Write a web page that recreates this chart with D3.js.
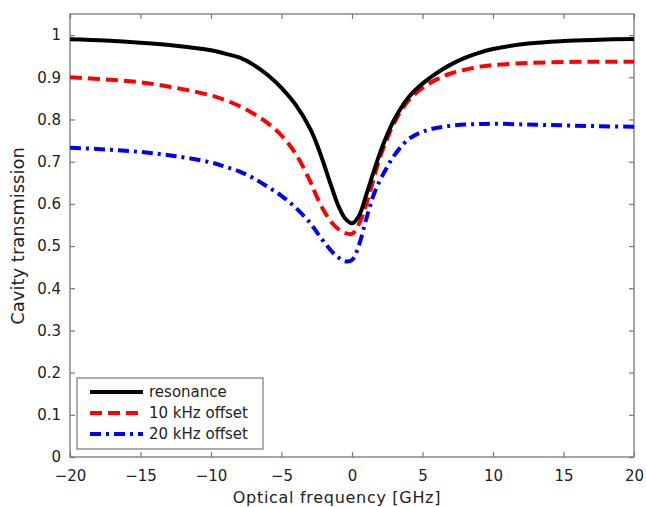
<!DOCTYPE html>
<html><head><meta charset="utf-8">
<script src="https://cdn.jsdelivr.net/npm/d3@7/dist/d3.min.js"></script>
<style>body{margin:0;background:#fff}svg{display:block}text{font-family:"DejaVu Sans",Verdana,sans-serif;fill:#222}</style>
</head><body><svg id="c" width="646" height="507"></svg>
<script>
const freq = [-20,-17.5,-15,-12.5,-10,-9,-8,-7,-6,-5,-4,-3,-2.5,-2,-1.5,-1,-0.5,0,0.5,1,1.5,2,2.5,3,4,5,6,7,8,9,10,12.5,15,17.5,20];
const resonance = [0.990,0.987,0.982,0.975,0.964,0.956,0.947,0.930,0.906,0.875,0.835,0.780,0.742,0.695,0.645,0.598,0.566,0.554,0.572,0.620,0.672,0.722,0.764,0.800,0.852,0.885,0.910,0.930,0.946,0.958,0.967,0.980,0.986,0.989,0.991];
const offset10 = [0.900,0.895,0.888,0.875,0.857,0.846,0.832,0.814,0.792,0.762,0.719,0.656,0.617,0.584,0.558,0.541,0.531,0.529,0.553,0.598,0.655,0.712,0.755,0.793,0.845,0.875,0.895,0.909,0.918,0.925,0.929,0.934,0.936,0.937,0.937];
const offset20 = [0.733,0.729,0.723,0.713,0.698,0.688,0.677,0.661,0.641,0.619,0.591,0.556,0.533,0.510,0.490,0.474,0.464,0.467,0.503,0.563,0.618,0.657,0.688,0.715,0.753,0.771,0.780,0.785,0.788,0.789,0.790,0.788,0.786,0.784,0.783];
const seriesNames = ["resonance","10 kHz offset","20 kHz offset"];
const xTicks = [-20,-15,-10,-5,0,5,10,15,20];
const yTicks = [0,0.1,0.2,0.3,0.4,0.5,0.6,0.7,0.8,0.9,1];
const xLabel = "Optical frequency [GHz]";
const yLabel = "Cavity transmission";

const svg = d3.select("#c");
const L=70,R=634,T=14,B=457;
const x = d3.scaleLinear().domain([-20,20]).range([L,R]);
const y = d3.scaleLinear().domain([0,1.05]).range([B,T]);
const axisCol="#777";

svg.append("rect").attr("x",L).attr("y",T).attr("width",R-L).attr("height",B-T)
  .attr("fill","none").attr("stroke",axisCol).attr("stroke-width",1.3);

const tl=5;
const gb = svg.append("g").attr("transform",`translate(0,${B})`)
  .call(d3.axisBottom(x).tickValues(xTicks).tickSize(-tl).tickPadding(10).tickFormat(d3.format("d")));
const gt = svg.append("g").attr("transform",`translate(0,${T})`)
  .call(d3.axisTop(x).tickValues(xTicks).tickSize(-tl).tickFormat(""));
const gl = svg.append("g").attr("transform",`translate(${L},0)`)
  .call(d3.axisLeft(y).tickValues(yTicks).tickSize(-tl).tickPadding(9).tickFormat(d=>d===0?"0":d===1?"1":d3.format(".1f")(d)));
const gr = svg.append("g").attr("transform",`translate(${R},0)`)
  .call(d3.axisRight(y).tickValues(yTicks).tickSize(-tl).tickFormat(""));
[gb,gt,gl,gr].forEach(g=>{g.select(".domain").remove();g.selectAll("line").attr("stroke",axisCol).attr("stroke-width",1.2);
  g.selectAll("text").style("font-size","15px").attr("fill","#222").style("font-family","'DejaVu Sans',Verdana,sans-serif");});
gb.selectAll("text").attr("dy","0.9em");

const line = d3.line().x(d=>x(d[0])).y(d=>y(d[1])).curve(d3.curveCatmullRom.alpha(0.5));
const styles = [
  {c:"#000000",dash:null,w:4},
  {c:"#ff0000",dash:"12,6",w:4},
  {c:"#0000ff",dash:"11,5,3,5",w:4}
];
const data=[resonance,offset10,offset20];
const plot = svg.append("g");
data.slice().reverse().forEach((s,ri)=>{
  const i = 2-ri;
  plot.append("path").datum(freq.map((f,j)=>[f,s[j]]))
    .attr("d",line).attr("fill","none").attr("stroke",styles[i].c)
    .attr("stroke-width",styles[i].w).attr("stroke-dasharray",styles[i].dash);
});

const lg = svg.append("g");
lg.append("rect").attr("x",77).attr("y",378).attr("width",186).attr("height",71)
  .attr("fill","#fff").attr("stroke",axisCol).attr("stroke-width",1.2);
seriesNames.forEach((n,i)=>{
  const yy = 392 + i*21;
  lg.append("line").attr("x1",90).attr("x2",143).attr("y1",yy).attr("y2",yy)
    .attr("stroke",styles[i].c).attr("stroke-width",4).attr("stroke-dasharray",styles[i].dash);
  lg.append("text").attr("x",149).attr("y",yy).attr("dy","0.35em").style("font-size","15px").text(n);
});

svg.append("text").attr("x",337).attr("y",503).attr("text-anchor","middle")
  .style("font-size","16px").style("letter-spacing","0.7px").text(xLabel);
svg.append("text").attr("transform","translate(24,236) rotate(-90)").attr("text-anchor","middle")
  .style("font-size","18px").text(yLabel);
</script></body></html>
